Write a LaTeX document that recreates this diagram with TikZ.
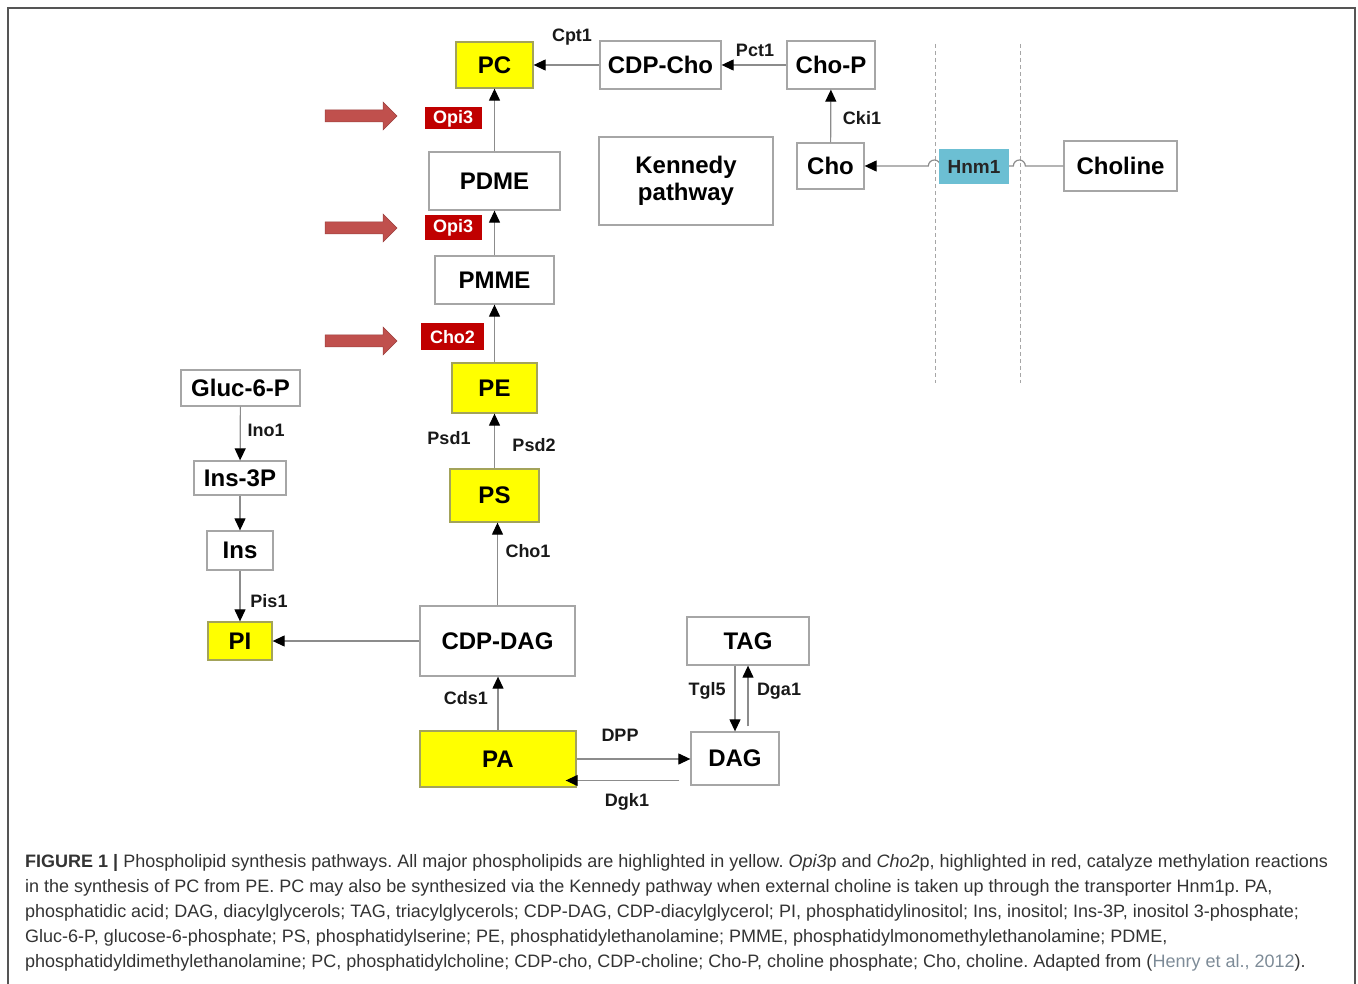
\documentclass[tikz,border=0pt]{standalone}
\usepackage{fontspec}
\setmainfont{Liberation Sans}
\newfontfamily\capfont{Liberation Sans}
\usetikzlibrary{arrows.meta,calc,positioning}
\definecolor{boxline}{HTML}{A6A6A6}
\definecolor{wire}{HTML}{8C8C8C}
\definecolor{lipid}{HTML}{FFFF00}
\definecolor{lipidline}{HTML}{A3A35A}
\definecolor{enzred}{HTML}{C00000}
\definecolor{pointer}{HTML}{C0504D}
\definecolor{hnm}{HTML}{6CBFD3}
\definecolor{capink}{HTML}{333333}
\definecolor{citegray}{HTML}{7D8B97}
\definecolor{frameink}{HTML}{555555}
\tikzset{
  box/.style={draw=boxline,line width=1.3pt,fill=white,inner sep=0pt,
    font=\bfseries\fontsize{24}{27}\selectfont},
  lipidbox/.style={box,draw=lipidline,fill=lipid},
  redtag/.style={fill=enzred,text=white,inner sep=0pt,
    font=\bfseries\fontsize{18}{20}\selectfont},
  enz/.style={inner sep=1pt,text=black!90,font=\bfseries\fontsize{18}{20}\selectfont},
  conn/.style={draw=wire,line width=1.2pt,-{Triangle[length=12pt,width=11pt,color=black]}},
  guide/.style={draw=boxline,dash pattern=on 4pt off 3pt,line width=1pt},
  redarrow/.style={fill=pointer,draw=pointer!80!black,line width=.5pt}}

\begin{document}
\frenchspacing
\begin{tikzpicture}[x=1pt,y=-1pt]
\useasboundingbox (0,0) rectangle (1358,984);
\draw[frameink,line width=1.5pt] (8,984) -- (8,8) -- (1355,8) -- (1355,984);
% choline branch
\node[lipidbox,minimum width=77pt,minimum height=46pt] (pc) at (494.5,65) {PC};
\node[box,minimum width=121pt,minimum height=48pt] (cdpcho) at (660.5,65) {CDP-Cho};
\node[box,minimum width=88pt,minimum height=48pt] (chop) at (831,65) {Cho-P};
\node[box,minimum width=67pt,minimum height=46pt] (cho) at (830.5,166) {Cho};
\node[box,minimum width=113pt,minimum height=50pt] (choline) at (1120.5,166) {Choline};
\node[box,minimum width=174pt,minimum height=88pt,align=center] (kennedy) at (686,181) {Kennedy\\pathway};
% methylation chain
\node[box,minimum width=131pt,minimum height=58pt] (pdme) at (494.5,181) {PDME};
\node[box,minimum width=119pt,minimum height=48pt] (pmme) at (494.5,280) {PMME};
\node[lipidbox,minimum width=85pt,minimum height=50pt] (pe) at (494.5,388) {PE};
\node[lipidbox,minimum width=89pt,minimum height=53pt] (ps) at (494.5,495.5) {PS};
\node[box,minimum width=155pt,minimum height=70pt] (cdpdag) at (497.5,641) {CDP-DAG};
\node[lipidbox,minimum width=156pt,minimum height=56pt] (pa) at (498,759) {PA};
\node[box,minimum width=88pt,minimum height=53pt] (dag) at (735,758.5) {DAG};
\node[box,minimum width=122pt,minimum height=48pt] (tag) at (748,641) {TAG};
% inositol branch
\node[box,minimum width=119pt,minimum height=36pt] (gluc) at (240.5,388) {Gluc-6-P};
\node[box,minimum width=92pt,minimum height=34pt] (insp) at (240,478) {Ins-3P};
\node[box,minimum width=66pt,minimum height=39pt] (ins) at (240,550.5) {Ins};
\node[lipidbox,minimum width=64pt,minimum height=38pt] (pi) at (240,641) {PI};
% enzymes highlighted in red
\node[redtag,minimum width=57pt,minimum height=22pt] (opia) at (453,118.5) {Opi3};
\node[redtag,minimum width=57pt,minimum height=25pt] (opib) at (453,228) {Opi3};
\node[redtag,minimum width=63pt,minimum height=27pt] (chotwo) at (452.5,337) {Cho2};
\foreach \ay in {116,228,341}
  \path[redarrow] (325,\ay-6) -- (383,\ay-6) -- (383,\ay-14) -- (397,\ay)
    -- (383,\ay+14) -- (383,\ay+6) -- (325,\ay+6) -- cycle;
% membrane
\foreach \gx in {935,1020}
  \draw[guide] (\gx,44) -- (\gx,383);
\draw[conn] (choline.west) -- ++(-38,0) arc[start angle=0,end angle=-180,radius=6]
  -- ++(-73,0) arc[start angle=0,end angle=-180,radius=6] -- (cho.east);
\node[fill=hnm,inner sep=0pt,minimum width=70pt,minimum height=35pt,text=black!85,
  font=\bfseries\fontsize{19}{21}\selectfont] (hnm) at (974,166.5) {Hnm1};
% reactions
\draw[conn] (cdpcho) -- (pc);
\draw[conn] (chop) -- (cdpcho);
\draw[conn] (cho) -- (chop);
\draw[conn] (pdme) -- (pc);
\draw[conn] (pmme) -- (pdme);
\draw[conn] (pe) -- (pmme);
\draw[conn] (ps) -- (pe);
\draw[conn] (cdpdag.north) -- (cdpdag.north |- ps.south);
\draw[conn] (pa.north) -- (pa.north |- cdpdag.south);
\draw[conn] (cdpdag) -- (pi);
\draw[conn] (gluc) -- (insp);
\draw[conn] (insp) -- (ins);
\draw[conn] (ins) -- (pi);
\draw[conn] (pa.east) -- (pa.east -| dag.west);
\draw[conn] ([xshift=-11pt,yshift=-22pt]dag.west) -- ([xshift=-11pt,yshift=-22pt]dag.west -| pa.east);
\draw[conn] (tag.south -| dag.north) -- (dag.north);
\draw[conn] ([xshift=13pt,yshift=5pt]dag.north) -- (tag.south);
\node[enz] (cpt) at (572,37) {Cpt1};
\node[enz] (pct) at (755,50) {Pct1};
\node[enz] (cki) at (862,118) {Cki1};
\node[enz] (ino) at (266,430) {Ino1};
\node[enz] (psda) at (449,438) {Psd1};
\node[enz] (psdb) at (534,445) {Psd2};
\node[enz] (chone) at (528,551) {Cho1};
\node[enz] (pis) at (269,601) {Pis1};
\node[enz] (cds) at (466,698) {Cds1};
\node[enz] (tgl) at (707,691) {Tgl5};
\node[enz] (dga) at (779,691) {Dga1};
\node[enz] (dpp) at (620,735) {DPP};
\node[enz] (dgk) at (627,802) {Dgk1};
% caption
\node[anchor=north west,align=left,inner sep=0pt,text=capink,
  font=\capfont\fontsize{18}{25}\selectfont] (caption) at (25,854)
  {\textbf{FIGURE 1 |} Phospholipid synthesis pathways. All major phospholipids are highlighted in yellow. \textit{Opi3}p and \textit{Cho2}p, highlighted in red, catalyze methylation reactions\\
  in the synthesis of PC from PE. PC may also be synthesized via the Kennedy pathway when external choline is taken up through the transporter Hnm1p. PA,\\
  phosphatidic acid; DAG, diacylglycerols; TAG, triacylglycerols; CDP-DAG, CDP-diacylglycerol; PI, phosphatidylinositol; Ins, inositol; Ins-3P, inositol 3-phosphate;\\
  Gluc-6-P, glucose-6-phosphate; PS, phosphatidylserine; PE, phosphatidylethanolamine; PMME, phosphatidylmonomethylethanolamine; PDME,\\
  phosphatidyldimethylethanolamine; PC, phosphatidylcholine; CDP-cho, CDP-choline; Cho-P, choline phosphate; Cho, choline. Adapted from ({\color{citegray}Henry et al., 2012}).};
\end{tikzpicture}
\end{document}
